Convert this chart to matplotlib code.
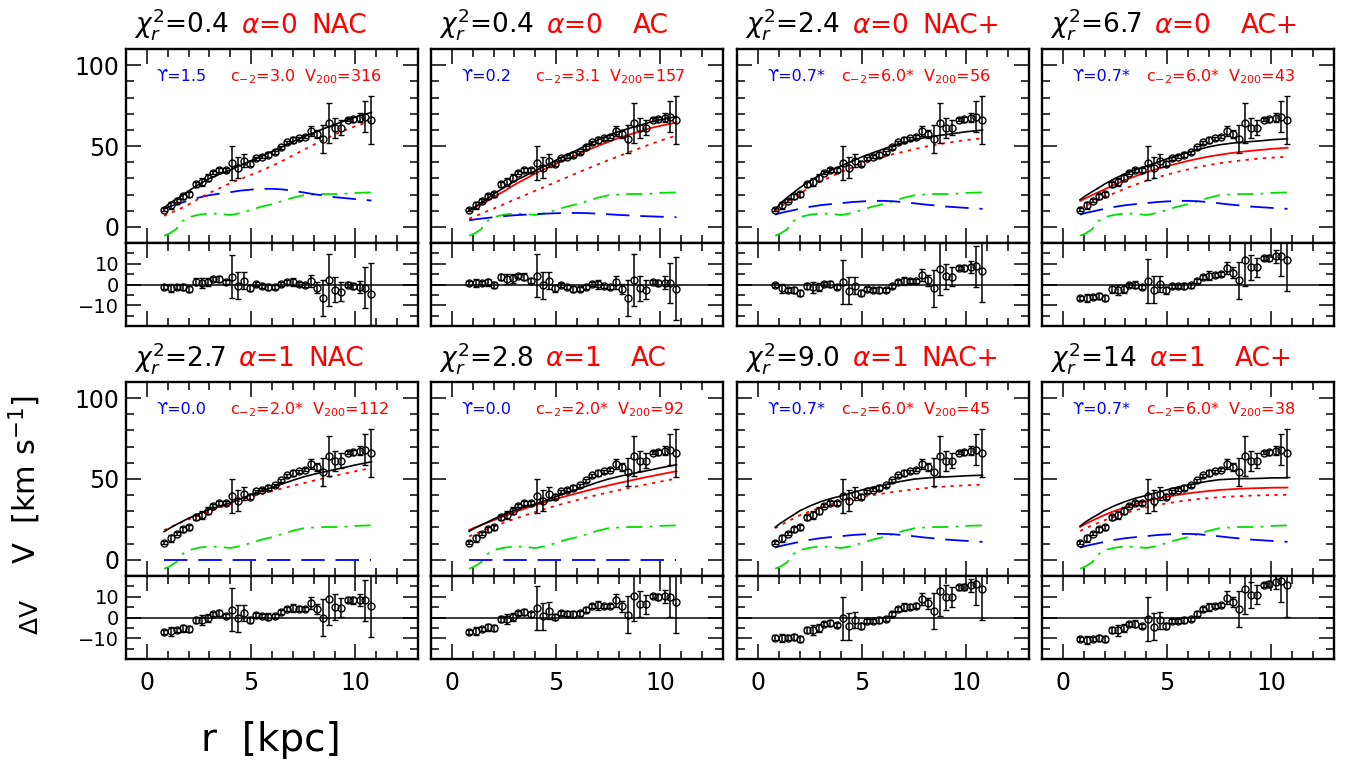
import numpy as np
import matplotlib.pyplot as plt
from matplotlib.ticker import MultipleLocator, FixedLocator

W, H = 1351, 768

# observed rotation curve (same galaxy in every panel)
r_obs = [0.83, 1.14, 1.46, 1.75, 2.03, 2.34, 2.63, 2.92, 3.19, 3.48, 3.78, 4.07,
         4.36, 4.66, 4.95, 5.24, 5.54, 5.83, 6.12, 6.43, 6.72, 7.00, 7.31, 7.60,
         7.88, 8.17, 8.46, 8.75, 9.04, 9.33, 9.62, 9.90, 10.20, 10.48, 10.77]
v_obs = [10.5, 13.2, 16.1, 18.8, 20.2, 26.4, 28.0, 30.5, 33.6, 35.2, 35.2, 39.4,
         36.7, 40.8, 39.0, 42.5, 43.5, 44.5, 46.0, 49.3, 52.2, 53.8, 54.8, 55.8,
         59.4, 57.5, 54.2, 64.1, 61.0, 61.4, 66.2, 66.6, 67.6, 68.2, 66.2]
e_obs = [1.0, 2.0, 1.0, 1.5, 1.5, 1.5, 2.5, 2.0, 1.0, 1.5, 1.0, 10.5,
         6.5, 4.0, 1.5, 1.0, 1.0, 1.5, 1.0, 1.0, 1.0, 2.0, 1.0, 1.0,
         3.0, 2.6, 8.8, 12.4, 6.2, 4.6, 1.0, 1.5, 3.0, 9.8, 15.0]

# model components
r_mod = [0.83, 1.1, 1.4, 1.7, 2.0, 2.5, 3.0, 3.5, 4.0, 4.5, 5.0,
         5.5, 6.0, 6.5, 7.0, 7.5, 8.0, 8.5, 9.0, 9.5, 10.0, 10.77]
v_gas = [-5.5, -4.0, -1.5, 3.5, 6.0, 7.5, 8.3, 8.0, 7.3, 8.5, 10.5,
         12.5, 14.0, 16.0, 18.0, 19.5, 20.0, 20.3, 20.3, 20.5, 21.0, 21.3]
v_disk1 = [9.0, 10.3, 11.3, 12.3, 13.3, 14.8, 16.0, 16.8, 17.5, 18.3, 18.8,
           19.2, 19.2, 18.9, 18.2, 17.4, 16.5, 15.8, 15.0, 14.5, 14.0, 13.3]

halo_dot = [
    [6.8, 8.5, 10.0, 11.8, 13.8, 17.5, 21.0, 24.0, 27.0, 29.6, 32.2,
     34.8, 37.7, 40.8, 44.2, 47.5, 50.8, 54.0, 57.0, 59.8, 62.3, 65.5],
    [5.0, 6.5, 8.0, 9.7, 11.3, 14.0, 16.8, 19.5, 22.3, 25.0, 27.8,
     30.5, 33.3, 36.0, 38.6, 41.2, 43.7, 46.2, 48.6, 51.0, 53.3, 56.5],
    [9.5, 12.5, 15.5, 18.0, 20.5, 24.5, 28.0, 31.0, 34.0, 36.5, 39.0,
     41.0, 43.0, 45.0, 46.5, 48.0, 49.5, 50.7, 51.8, 52.8, 53.7, 54.8],
    [11.5, 13.0, 14.8, 16.5, 18.3, 21.0, 23.8, 26.2, 28.5, 30.5, 32.3,
     34.0, 35.5, 37.0, 38.2, 39.3, 40.2, 41.0, 41.7, 42.3, 42.8, 43.3],
    [18.3, 20.0, 21.8, 23.5, 25.0, 27.5, 30.0, 32.3, 34.5, 36.8, 39.0,
     40.8, 42.5, 44.2, 45.8, 47.4, 49.0, 50.5, 52.0, 53.4, 54.8, 56.8],
    [14.5, 16.0, 17.5, 19.0, 20.5, 23.0, 25.3, 27.5, 29.6, 31.6, 33.5,
     35.3, 37.0, 38.6, 40.2, 41.7, 43.1, 44.5, 45.8, 47.1, 48.4, 50.2],
    [19.5, 21.5, 23.5, 25.5, 27.5, 30.0, 32.3, 34.3, 36.0, 37.5, 38.9,
     40.0, 41.0, 42.0, 42.8, 43.6, 44.3, 44.9, 45.4, 45.8, 46.1, 46.5],
    [17.8, 19.6, 21.3, 22.9, 24.5, 26.8, 28.9, 30.8, 32.4, 33.8, 35.0,
     36.0, 36.9, 37.6, 38.2, 38.7, 39.1, 39.4, 39.7, 39.9, 40.1, 40.2],
]
halo_ac = [
    None,
    [10.5, 12.0, 14.0, 16.0, 18.5, 22.0, 26.0, 29.5, 33.0, 36.0, 39.0,
     42.0, 44.5, 47.5, 50.0, 52.5, 55.0, 57.0, 59.0, 61.0, 62.5, 64.5],
    None,
    [16.0, 17.7, 19.6, 21.4, 23.2, 26.2, 29.0, 31.4, 33.7, 35.7, 37.6,
     39.2, 40.8, 42.2, 43.5, 44.5, 45.5, 46.3, 47.0, 47.6, 48.2, 48.9],
    None,
    [18.5, 20.0, 21.5, 23.0, 24.5, 27.0, 29.5, 31.7, 33.8, 35.8, 37.7,
     39.5, 41.2, 42.9, 44.5, 46.0, 47.5, 48.9, 50.3, 51.6, 52.9, 54.8],
    None,
    [20.3, 22.3, 24.2, 26.0, 27.8, 30.3, 32.5, 34.6, 36.3, 37.8, 39.0,
     40.1, 41.1, 41.9, 42.6, 43.2, 43.6, 44.0, 44.2, 44.4, 44.6, 44.7],
]

chi2 = ['0.4', '0.4', '2.4', '6.7', '2.7', '2.8', '9.0', '14']
alpha = ['0', '0', '0', '0', '1', '1', '1', '1']
label = ['NAC', 'AC', 'NAC+', 'AC+', 'NAC', 'AC', 'NAC+', 'AC+']
ups = [1.5, 0.2, 0.7, 0.7, 0.0, 0.0, 0.7, 0.7]
ups_txt = ['1.5', '0.2', '0.7*', '0.7*', '0.0', '0.0', '0.7*', '0.7*']
c2_txt = ['3.0', '3.1', '6.0*', '6.0*', '2.0*', '2.0*', '6.0*', '6.0*']
v200_txt = ['316', '157', '56', '43', '112', '92', '45', '38']

fig = plt.figure(figsize=(W / 100, H / 100), dpi=100)
plt.rcParams['font.family'] = ['DejaVu Sans']
renderer = fig.canvas.get_renderer()


def chain(x, y, parts, size):
    # draw several coloured pieces one after another on a common baseline
    for s, c, gap in parts:
        x += gap
        t = fig.text(x / W, 1 - y / H, s, color=c, fontsize=size,
                     ha='left', va='baseline')
        x += t.get_window_extent(renderer).width


def style(ax, major, minor, ysize):
    ax.set_xlim(-1, 13)
    ax.xaxis.set_major_locator(MultipleLocator(5))
    ax.xaxis.set_minor_locator(MultipleLocator(1))
    ax.yaxis.set_major_locator(FixedLocator(major))
    ax.yaxis.set_minor_locator(MultipleLocator(minor))
    ax.tick_params(which='both', direction='in', top=True, right=True,
                   width=1.1, labelsize=17)
    ax.tick_params(axis='y', labelsize=ysize, pad=5)
    ax.tick_params(which='major', length=11)
    ax.tick_params(which='minor', length=6)
    ax.tick_params(axis='x', pad=9)
    for s in ax.spines.values():
        s.set_linewidth(1.7)


col_left = [126, 431, 737, 1042]
row_top = [49, 382]
pw, mh, rh = 292, 194, 83

r_m = np.array(r_mod)
gas = np.array(v_gas)
disk1 = np.array(v_disk1)

for i in range(8):
    row, col = divmod(i, 4)
    x0, y0 = col_left[col], row_top[row]
    ax = fig.add_axes([x0 / W, 1 - (y0 + mh) / H, pw / W, mh / H])
    axr = fig.add_axes([x0 / W, 1 - (y0 + mh + rh) / H, pw / W, rh / H])

    disk = np.sqrt(ups[i]) * disk1
    hd = np.array(halo_dot[i])
    hused = hd if halo_ac[i] is None else np.array(halo_ac[i])
    tot = np.sqrt(np.clip(hused ** 2 + disk ** 2 + gas * np.abs(gas), 0, None))

    ax.plot(r_m, gas, color='#00e000', lw=1.3, ls=(0, (9, 4, 1.5, 4)))
    ax.plot(r_m, disk, color='#0000ff', lw=1.3, ls=(0, (13, 6)))
    ax.plot(r_m, hd, color='#ff0000', lw=1.3, ls=(0, (1.8, 3)))
    if halo_ac[i] is not None:
        ax.plot(r_m, hused, color='#ff0000', lw=1.3)
    ax.plot(r_m, tot, color='k', lw=1.2)
    ax.errorbar(r_obs, v_obs, yerr=e_obs, fmt='o', ms=5, mfc='none', mec='k',
                mew=1.0, ecolor='k', elinewidth=1.1, capsize=2.5, capthick=1.1)
    ax.set_ylim(-10, 110)
    style(ax, [0, 50, 100], 10, 17)
    ax.tick_params(labelbottom=False)
    if col > 0:
        ax.tick_params(labelleft=False)

    res = np.array(v_obs) - np.interp(r_obs, r_m, tot)
    axr.axhline(0, color='k', lw=1.1)
    axr.errorbar(r_obs, res, yerr=e_obs, fmt='o', ms=5, mfc='none', mec='k',
                 mew=1.0, ecolor='k', elinewidth=1.1, capsize=2.5, capthick=1.1)
    axr.set_ylim(-20, 20)
    style(axr, [-10, 0, 10], 5, 14)
    if row == 0:
        axr.tick_params(labelbottom=False)
    if col > 0:
        axr.tick_params(labelleft=False)

    # panel title
    gap_lab = 14 if label[i].startswith('N') else 30
    chain(x0 + 8, y0 - 16,
          [(r'$\chi^2_r$=' + chi2[i], 'k', 0),
           (r'$\alpha$=' + alpha[i], '#ff0000', 12),
           (label[i], '#ff0000', gap_lab)], 19)

    # fit parameters inside the panel
    yb = y0 + 32
    fig.text((x0 + 0.105 * pw) / W, 1 - yb / H, 'ϒ=' + ups_txt[i],
             color='#0000ff', fontsize=11.5, ha='left', va='baseline')
    chain(x0 + 0.357 * pw, yb,
          [(r'c$_{-2}$=' + c2_txt[i], '#ff0000', 0),
           (r'V$_{200}$=' + v200_txt[i], '#ff0000', 8)], 11.5)

fig.text(43 / W, 1 - 480 / H, r'V  [km s$^{-1}$]', rotation=90, fontsize=22,
         ha='right', va='center')
fig.text(43 / W, 1 - 617 / H, r'$\Delta$V', rotation=90, fontsize=18,
         ha='right', va='center')
fig.text(271 / W, 1 - 740 / H, 'r  [kpc]', fontsize=28, ha='center', va='center')

fig.savefig('out.png', dpi=100)
